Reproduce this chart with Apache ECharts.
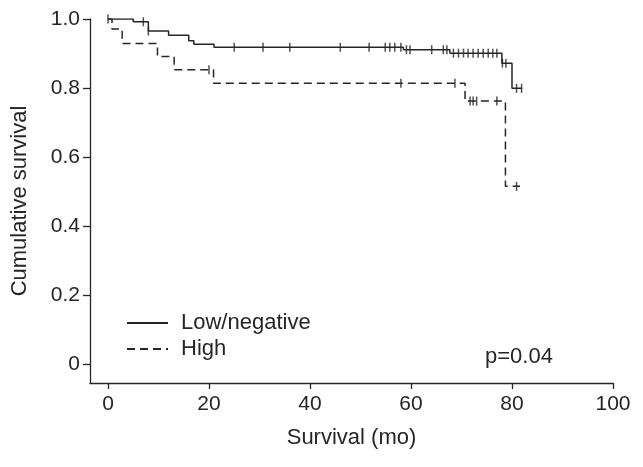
<!DOCTYPE html>
<html>
<head>
<meta charset="utf-8">
<script src="https://cdn.jsdelivr.net/npm/echarts@6/dist/echarts.min.js"></script>
<style>html,body{margin:0;padding:0;background:#fff}#c{width:643px;height:467px}</style>
</head>
<body>
<div id="c"></div>
<script>
// Low/negative group (solid)
var lowTimes = [0, 5, 8, 12, 16, 17, 21, 58.5, 67.7, 78, 80, 82];
var lowSurv  = [1.0, 0.992, 0.965, 0.953, 0.937, 0.927, 0.918, 0.911, 0.901, 0.872, 0.799, 0.799];
var lowCensor = [0, 7, 8, 25, 30.7, 36, 46, 51.7, 54.9, 55.8, 56.8, 58, 59.1, 59.8, 64.1, 66.4, 67.1,
                 68.4, 69.4, 70.4, 71.3, 72.3, 73.3, 74.3, 75.3, 76.2, 77, 78.1, 78.8, 80.9, 81.9];
// High group (dashed)
var highTimes = [0, 0.8, 2.8, 9.8, 13.1, 20.9, 70.7, 78.7, 81.6];
var highSurv  = [1.0, 0.971, 0.929, 0.891, 0.853, 0.814, 0.762, 0.515, 0.515];
var highCensor = [20, 58, 68.7, 71.7, 72.3, 73, 77, 80.9];

var xTicks = [0, 20, 40, 60, 80, 100];
var yTicks = [0, 0.2, 0.4, 0.6, 0.8, 1.0];
var seriesNames = ['Low/negative', 'High'];
var pText = 'p=0.04';

function pairs(t, s) { return t.map(function (v, i) { return [v, s[i]]; }); }
function survAt(t, s, x) {
  var y = s[0];
  for (var i = 0; i < t.length; i++) { if (t[i] <= x) y = s[i]; }
  return y;
}
function censorPts(c, t, s) { return c.map(function (x) { return [x, survAt(t, s, x)]; }); }

var INK = '#262626';
var FONT = 'Liberation Sans, Arial, Helvetica, sans-serif';
var chart = echarts.init(document.getElementById('c'));
chart.setOption({
  animation: false,
  backgroundColor: '#fff',
  textStyle: { fontFamily: FONT, color: INK },
  grid: { left: 90, right: 30, top: 19, bottom: 84, containLabel: false },
  xAxis: {
    type: 'value', min: -3.56, max: 100,
    name: 'Survival (mo)', nameLocation: 'middle', nameGap: 44,
    nameTextStyle: { fontSize: 22, color: INK, fontFamily: FONT },
    axisLine: { show: true, onZero: false, lineStyle: { color: INK, width: 1.3 } },
    axisTick: { show: true, length: 6, customValues: xTicks, lineStyle: { color: INK, width: 1.3 } },
    axisLabel: { customValues: xTicks, fontSize: 21, color: INK, margin: 11, fontFamily: FONT },
    splitLine: { show: false }
  },
  yAxis: {
    type: 'value', min: -0.055, max: 1.0,
    name: 'Cumulative survival', nameLocation: 'middle', nameGap: 59,
    nameTextStyle: { fontSize: 22, color: INK, fontFamily: FONT },
    axisLine: { show: true, onZero: false, lineStyle: { color: INK, width: 1.3 } },
    axisTick: { show: true, length: 7, customValues: yTicks, lineStyle: { color: INK, width: 1.3 } },
    axisLabel: {
      customValues: yTicks, fontSize: 21, color: INK, margin: 10, fontFamily: FONT,
      formatter: function (v) { return v === 0 ? '0' : v.toFixed(1); }
    },
    splitLine: { show: false }
  },
  legend: {
    data: seriesNames, orient: 'vertical', left: 126, top: 312, padding: 0,
    itemWidth: 41, itemHeight: 12, itemGap: 4,
    itemStyle: { color: 'rgba(0,0,0,0)', borderWidth: 0, opacity: 0 },
    textStyle: { fontSize: 22, color: INK, fontFamily: FONT, padding: [0, 0, 0, 8] }
  },
  title: {
    text: pText, left: 480, top: 341,
    textStyle: { fontSize: 22, fontWeight: 'normal', color: INK, fontFamily: FONT }
  },
  series: [
    {
      name: seriesNames[0], type: 'line', step: 'end', symbol: 'none',
      data: pairs(lowTimes, lowSurv),
      lineStyle: { color: INK, width: 1.5, type: 'solid' }, itemStyle: { color: INK }
    },
    {
      name: seriesNames[1], type: 'line', step: 'end', symbol: 'none',
      data: pairs(highTimes, highSurv),
      lineStyle: { color: INK, width: 1.5, type: [8, 5] }, itemStyle: { color: INK }
    },
    {
      name: 'lowCensor', type: 'scatter', symbol: 'rect', symbolSize: [1.5, 9],
      data: censorPts(lowCensor, lowTimes, lowSurv), itemStyle: { color: INK }
    },
    {
      name: 'highCensor', type: 'scatter', symbol: 'rect', symbolSize: [1.5, 9],
      data: censorPts(highCensor, highTimes, highSurv), itemStyle: { color: INK }
    }
  ]
});
</script>
</body>
</html>
